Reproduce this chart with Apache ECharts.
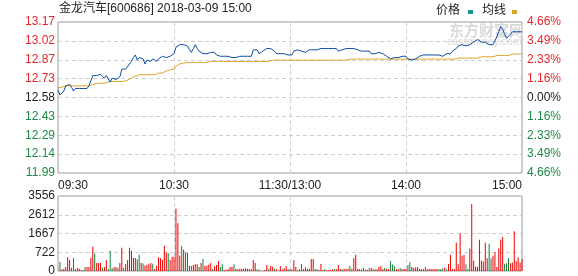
<!DOCTYPE html>
<html><head><meta charset="utf-8">
<script src="https://cdn.jsdelivr.net/npm/echarts@6/dist/echarts.min.js"></script>
<style>html,body{margin:0;padding:0;background:#fff}#c{width:578px;height:276px}</style>
</head><body><div id="c"></div>
<script>
const titleText = '金龙汽车[600686] 2018-03-09 15:00';
const legendNames = ['价格', '均线'];
const watermarkMain = '东方财富网';
const watermarkSub = 'eastmoney.com';
const prevClose = 12.58;
const priceStep = 0.1465;
const priceLabels = ['11.99','12.14','12.29','12.43','12.58','12.73','12.87','13.02','13.17'];
const pctLabels = ['4.66%','3.49%','2.33%','1.16%','0.00%','1.16%','2.33%','3.49%','4.66%'];
const volLabels = ['0','722','1667','2612','3556'];
const volTop = 3556;
const xTickIndex = [0, 60, 120, 180, 240];
const xTickLabels = ['09:30','10:30','11:30/13:00','14:00','15:00'];

const price = [
12.64,12.60,12.59,12.63,12.67,12.68,12.68,12.66,12.63,12.65,
12.65,12.65,12.65,12.65,12.65,12.65,12.67,12.68,12.75,12.74,
12.75,12.75,12.76,12.75,12.73,12.75,12.74,12.70,12.73,12.73,
12.72,12.73,12.74,12.80,12.80,12.80,12.81,12.84,12.86,12.89,
12.91,12.87,12.89,12.88,12.88,12.84,12.87,12.87,12.86,12.88,
12.88,12.86,12.88,12.89,12.90,12.90,12.89,12.89,12.90,12.91,
12.92,12.97,12.98,12.99,12.99,12.99,12.99,12.98,12.95,12.93,
12.96,12.99,12.96,12.94,12.94,12.92,12.92,12.92,12.92,12.93,
12.93,12.93,12.91,12.92,12.90,12.89,12.90,12.89,12.90,12.90,
12.89,12.89,12.89,12.90,12.90,12.90,12.90,12.90,12.90,12.90,
12.90,12.95,12.96,12.95,12.92,12.92,12.94,12.95,12.96,12.96,
12.96,12.96,12.94,12.92,12.92,12.92,12.92,12.92,12.92,12.91,
12.90,12.91,12.94,12.95,12.95,12.96,12.94,12.93,12.93,12.93,
12.95,12.96,12.95,12.94,12.95,12.96,12.96,12.96,12.96,12.95,
12.96,12.96,12.96,12.96,12.96,12.94,12.93,12.95,12.96,12.96,
12.96,12.96,12.96,12.96,12.96,12.95,12.95,12.94,12.94,12.94,
12.94,12.94,12.92,12.92,12.92,12.92,12.93,12.93,12.92,12.92,
12.90,12.89,12.88,12.87,12.89,12.90,12.89,12.90,12.90,12.90,
12.90,12.88,12.87,12.87,12.87,12.88,12.89,12.90,12.91,12.91,
12.91,12.91,12.91,12.91,12.91,12.91,12.90,12.91,12.91,12.90,
12.91,12.92,12.92,12.92,12.94,12.94,12.96,12.98,12.99,12.99,
12.99,12.98,12.99,12.99,13.00,13.01,13.02,13.03,13.02,13.01,
13.01,13.01,13.02,12.99,12.98,12.99,13.02,13.05,13.09,13.13,
13.11,13.07,13.04,13.05,13.07,13.09,13.09,13.09,13.09,13.09,13.09
];

const avgPrice = [
12.655,12.66,12.66,12.665,12.67,12.67,12.67,12.67,12.67,12.67,
12.67,12.67,12.67,12.67,12.67,12.67,12.67,12.675,12.68,12.69,
12.69,12.69,12.69,12.69,12.69,12.69,12.70,12.705,12.705,12.705,
12.705,12.705,12.705,12.705,12.705,12.705,12.715,12.725,12.73,12.74,
12.745,12.757,12.757,12.757,12.757,12.757,12.757,12.757,12.757,12.757,
12.757,12.76,12.77,12.77,12.77,12.78,12.785,12.79,12.795,12.80,
12.80,12.822,12.83,12.84,12.845,12.847,12.852,12.852,12.852,12.852,
12.852,12.852,12.852,12.852,12.852,12.852,12.852,12.852,12.86,12.86,
12.86,12.86,12.86,12.86,12.86,12.86,12.86,12.86,12.86,12.86,
12.86,12.86,12.86,12.86,12.86,12.86,12.86,12.86,12.86,12.86,
12.86,12.86,12.86,12.86,12.86,12.86,12.86,12.86,12.86,12.86,
12.87,12.87,12.87,12.87,12.87,12.87,12.87,12.87,12.87,12.87,
12.87,12.87,12.87,12.87,12.87,12.87,12.87,12.87,12.87,12.87,
12.87,12.87,12.87,12.87,12.87,12.87,12.87,12.87,12.87,12.87,
12.87,12.87,12.87,12.87,12.87,12.87,12.87,12.87,12.87,12.87,
12.878,12.878,12.878,12.878,12.878,12.878,12.878,12.878,12.878,12.878,
12.878,12.878,12.878,12.878,12.878,12.878,12.878,12.878,12.878,12.878,
12.878,12.878,12.878,12.878,12.878,12.878,12.878,12.878,12.878,12.878,
12.878,12.878,12.878,12.878,12.878,12.878,12.878,12.878,12.878,12.878,
12.878,12.878,12.878,12.878,12.878,12.878,12.878,12.878,12.878,12.878,
12.878,12.878,12.878,12.878,12.878,12.878,12.878,12.886,12.886,12.886,
12.886,12.886,12.886,12.886,12.886,12.886,12.886,12.886,12.886,12.896,
12.896,12.896,12.896,12.896,12.896,12.896,12.906,12.906,12.906,12.906,
12.906,12.906,12.906,12.906,12.917,12.917,12.917,12.917,12.917,12.917,12.92
];

const volume = [
0,
431,80,112,191,654,526,160,622,80,144,
112,48,48,191,191,191,622,1148,813,383,
383,383,160,191,526,96,957,128,175,191,
160,383,1100,160,335,526,1100,957,622,622,
558,766,383,351,255,287,335,383,335,96,
239,654,606,526,1196,877,845,526,670,670,
2967,2265,718,1196,1005,861,861,239,239,287,
319,319,191,383,574,239,255,303,383,96,
223,287,479,191,319,48,64,96,191,191,
319,112,80,112,112,96,128,112,96,80,
526,383,80,64,10,10,48,287,112,239,
207,112,80,10,239,80,128,239,112,80,
80,526,191,48,80,335,80,175,112,112,
574,574,96,96,48,335,48,96,48,48,
48,80,96,80,287,96,80,96,112,112,
239,112,622,766,96,80,80,144,64,64,
144,144,80,96,80,191,239,96,144,112,
80,479,303,239,96,80,144,96,96,96,
287,415,191,144,175,175,96,80,96,175,
80,96,96,96,96,96,96,96,128,160,
80,335,766,96,96,1340,319,1786,718,766,
319,112,1069,3174,494,207,207,1483,494,447,
1340,606,1292,606,718,893,207,1069,1483,1611,
335,367,606,367,399,1882,479,654,399,574
];

const volDir = ('r' +
'grrrrrggrr' + 'rrrgrrrrgr' + 'rrgrrgggrr' + 'grrgrrrrrr' +
'ggrgrrrrgr' + 'rrrrrrgrrr' + 'rrrgrggggr' + 'rrgrgrrrrg' +
'rrrggrrrrr' + 'grrrrrrrrr' + 'rrggrrrrgr' + 'rgrrrrrrgr' +
'rrrgrgrrrr' + 'rrggrrrgrr' + 'rrgrrrgrrr' + 'grrrrrrgrr' +
'grrgrrrrgr' + 'rgggrrgrrr' + 'ggrrrrrrrr' + 'rrrrrrgggr' +
'grrrrrrrrr' + 'ggrrrrrrrr' + 'rrggrrrrrr' + 'gggrrrrrrr').split('');

// minute categories
const minutes = [];
for (let i = 0; i <= 240; i++) {
  let t = i <= 120 ? 9 * 60 + 30 + i : 13 * 60 + (i - 120);
  const h = Math.floor(t / 60), m = t % 60;
  minutes.push((h < 10 ? '0' : '') + h + ':' + (m < 10 ? '0' : '') + m);
}

const RED = '#e8262a', GREEN = '#1f8a47', DARK = '#222';
const BAR_RED = '#f00000', BAR_GREEN = '#13803a';
const FONT = "'Liberation Sans','Noto Sans CJK SC',sans-serif";
const toUnit = p => (p - prevClose) / priceStep + 4;

const chart = echarts.init(document.getElementById('c'), null, {renderer: 'canvas'});
const gridLine = {show: true, lineStyle: {color: '#cfcfcf', type: [4, 3], width: 1}};
chart.setOption({
  animation: false,
  textStyle: {fontFamily: FONT},
  title: {text: titleText, left: 59, top: 3, padding: 0,
    textStyle: {fontSize: 12, fontWeight: 'normal', color: DARK, fontFamily: FONT}},
  graphic: [
    {type: 'text', left: 449, top: 23, z: 0, style: {text: watermarkMain, fill: '#d9d9d9', font: "bold 15px 'Noto Sans CJK SC'"}},
    {type: 'text', left: 447, top: 37, z: 0, style: {text: watermarkSub, fill: '#e2e2e2', font: "bold 10px 'Liberation Sans'"}},
    {type: 'text', left: 436, top: 3, style: {text: legendNames[0], fill: DARK, font: "12px 'Noto Sans CJK SC'"}},
    {type: 'rect', left: 468, top: 10, shape: {width: 5, height: 4}, style: {fill: '#14958f'}},
    {type: 'text', left: 482, top: 3, style: {text: legendNames[1], fill: DARK, font: "12px 'Noto Sans CJK SC'"}},
    {type: 'rect', left: 512, top: 10, shape: {width: 5, height: 4}, style: {fill: '#dba42c'}}
  ],
  grid: [
    {left: 58, top: 22, width: 464, height: 151, show: true, borderColor: '#999', borderWidth: 1, outerBoundsMode: 'none', containLabel: false},
    {left: 58, top: 196, width: 464, height: 75, show: true, borderColor: '#999', borderWidth: 1, outerBoundsMode: 'none', containLabel: false}
  ],
  xAxis: [
    {type: 'category', gridIndex: 0, data: minutes, boundaryGap: false,
      axisLine: {show: false}, axisTick: {show: false},
      splitLine: Object.assign({interval: (i) => i === 60 || i === 120 || i === 180}, gridLine),
      axisLabel: {show: true, interval: (i) => xTickIndex.indexOf(i) >= 0, margin: 7,
        formatter: (v, i) => xTickLabels[xTickIndex.indexOf(i)] || '',
        alignMinLabel: 'left', alignMaxLabel: 'right',
        fontSize: 12, color: DARK, fontFamily: FONT}},
    {type: 'category', gridIndex: 1, data: minutes, boundaryGap: false,
      axisLine: {show: false}, axisTick: {show: false}, axisLabel: {show: false},
      splitLine: Object.assign({interval: (i) => i === 60 || i === 120 || i === 180}, gridLine)}
  ],
  yAxis: [
    {type: 'value', gridIndex: 0, min: 0, max: 8, interval: 1, position: 'left',
      axisLine: {show: false}, axisTick: {show: false}, splitLine: gridLine,
      axisLabel: {margin: 3, fontSize: 12, fontFamily: FONT,
        formatter: v => priceLabels[Math.round(v)],
        color: v => v > 4 ? RED : (v < 4 ? GREEN : DARK)}},
    {type: 'value', gridIndex: 0, min: 0, max: 8, interval: 1, position: 'right',
      axisLine: {show: false}, axisTick: {show: false}, splitLine: {show: false},
      axisLabel: {margin: 5, fontSize: 12, fontFamily: FONT,
        formatter: v => pctLabels[8 - Math.round(v)],
        color: v => v > 4 ? RED : (v < 4 ? GREEN : DARK)}},
    {type: 'value', gridIndex: 1, min: 0, max: volTop, interval: volTop / 4, position: 'left',
      axisLine: {show: false}, axisTick: {show: false}, splitLine: gridLine,
      axisLabel: {margin: 3, fontSize: 12, fontFamily: FONT, color: DARK,
        formatter: v => volLabels[Math.round(v / (volTop / 4))]}}
  ],
  series: [
    {type: 'line', name: legendNames[1], xAxisIndex: 0, yAxisIndex: 0, data: avgPrice.map(toUnit),
      symbol: 'none', lineStyle: {color: '#dca426', width: 1}, z: 3},
    {type: 'line', name: legendNames[0], xAxisIndex: 0, yAxisIndex: 0, data: price.map(toUnit),
      symbol: 'none', lineStyle: {color: '#0b4ea2', width: 1}, z: 4},
    {type: 'bar', xAxisIndex: 1, yAxisIndex: 2, barWidth: 1,
      data: volume.map((v, i) => ({value: v, itemStyle: {color: volDir[i] === 'r' ? BAR_RED : BAR_GREEN}}))}
  ]
});
</script></body></html>
